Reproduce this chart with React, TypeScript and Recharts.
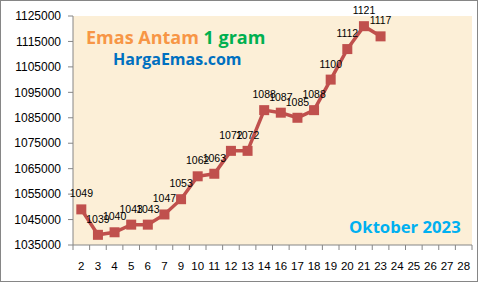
import React from 'react';
import { LineChart, Line, XAxis, YAxis, CartesianGrid, LabelList } from 'recharts';

const days = ['2', '3', '4', '5', '6', '7', '9', '10', '11', '12', '13', '14', '16', '17', '18', '19', '20', '21', '23', '24', '25', '26', '27', '28'];
const prices = [1049000, 1039000, 1040000, 1043000, 1043000, 1047000, 1053000, 1062000, 1063000, 1072000, 1072000, 1088000, 1087000, 1085000, 1088000, 1100000, 1112000, 1121000, 1117000];
const yTicks = [1035000, 1045000, 1055000, 1065000, 1075000, 1085000, 1095000, 1105000, 1115000, 1125000];

const data = days.map((d, i) => ({ day: d, price: i < prices.length ? prices[i] : null }));

const W = 479;
const H = 283;
const M = { top: 16, right: 7, left: 0, bottom: 8 };
const YW = 73;
const XH = 30;
const PLOT_W = W - M.left - M.right - YW;
const BAND = PLOT_W / days.length;
const AXIS = '#868686';
const RED = '#C0504D';
const FONT = '"Liberation Sans", Arial, sans-serif';
const TFONT = '"Open Sans", sans-serif';

const XTick = (props: any) => {
  const { x, y, payload, index } = props;
  const hb = BAND / 2;
  return (
    <g>
      <line x1={x - hb} x2={x - hb} y1={y - 5} y2={y} stroke={AXIS} strokeWidth={1} />
      {index === days.length - 1 && (
        <line x1={x + hb} x2={x + hb} y1={y - 5} y2={y} stroke={AXIS} strokeWidth={1} />
      )}
      <text x={x} y={y + 20} textAnchor="middle" fontSize={11.5} fontFamily={FONT} fill="#000">
        {payload.value}
      </text>
    </g>
  );
};

const SquareDot = (props: any) => {
  const { cx, cy, index } = props;
  if (cx == null || cy == null || props.value == null) return <g key={`d${index}`} />;
  return <rect key={`d${index}`} x={cx - 5} y={cy - 5} width={10} height={10} fill={RED} />;
};

export default function App() {
  return (
    <div style={{ position: 'absolute', left: 0, top: 0, width: W, height: H, background: '#fff' }}>
      <LineChart width={W} height={H} data={data} margin={M}>
        <CartesianGrid horizontal={false} vertical={false} fill="#FCEFD7" stroke="none" />
        <XAxis
          dataKey="day"
          interval={0}
          padding={{ left: BAND / 2, right: BAND / 2 }}
          height={XH}
          tickSize={5}
          tickMargin={0}
          tickLine={false}
          axisLine={{ stroke: AXIS }}
          tick={<XTick />}
        />
        <YAxis
          width={YW}
          domain={[1035000, 1125000]}
          ticks={yTicks}
          interval={0}
          tickSize={5}
          tickMargin={7}
          axisLine={{ stroke: AXIS }}
          tickLine={{ stroke: AXIS }}
          tick={{ fontSize: 12, fontFamily: FONT, fill: '#000' }}
        />
        <Line
          dataKey="price"
          stroke={RED}
          strokeWidth={3.5}
          dot={<SquareDot />}
          isAnimationActive={false}
          connectNulls={false}
        >
          <LabelList
            dataKey="price"
            position="top"
            offset={12}
            formatter={(v: any) => (v == null ? '' : String(Math.round(v / 1000)))}
            style={{ fontSize: 10.5, fontFamily: FONT, fill: '#000' }}
          />
        </Line>
      </LineChart>
      <svg width={W} height={H} style={{ position: 'absolute', left: 0, top: 0, pointerEvents: 'none' }}>
        <rect x={0.5} y={0.5} width={477} height={281} fill="none" stroke={AXIS} strokeWidth={1} />
        <text x={86} y={44} fontFamily={TFONT} fontWeight="bold" fontSize={18}>
          <tspan fill="#F79646">Emas Antam </tspan>
          <tspan fill="#00B050">1 gram</tspan>
        </text>
        <text x={113} y={65} fontFamily={TFONT} fontWeight="bold" fontSize={16} fill="#0070C0">
          HargaEmas.com
        </text>
        <text x={349} y={233} fontFamily={TFONT} fontWeight="bold" fontSize={16.7} fill="#00B0F0">
          Oktober 2023
        </text>
      </svg>
    </div>
  );
}
